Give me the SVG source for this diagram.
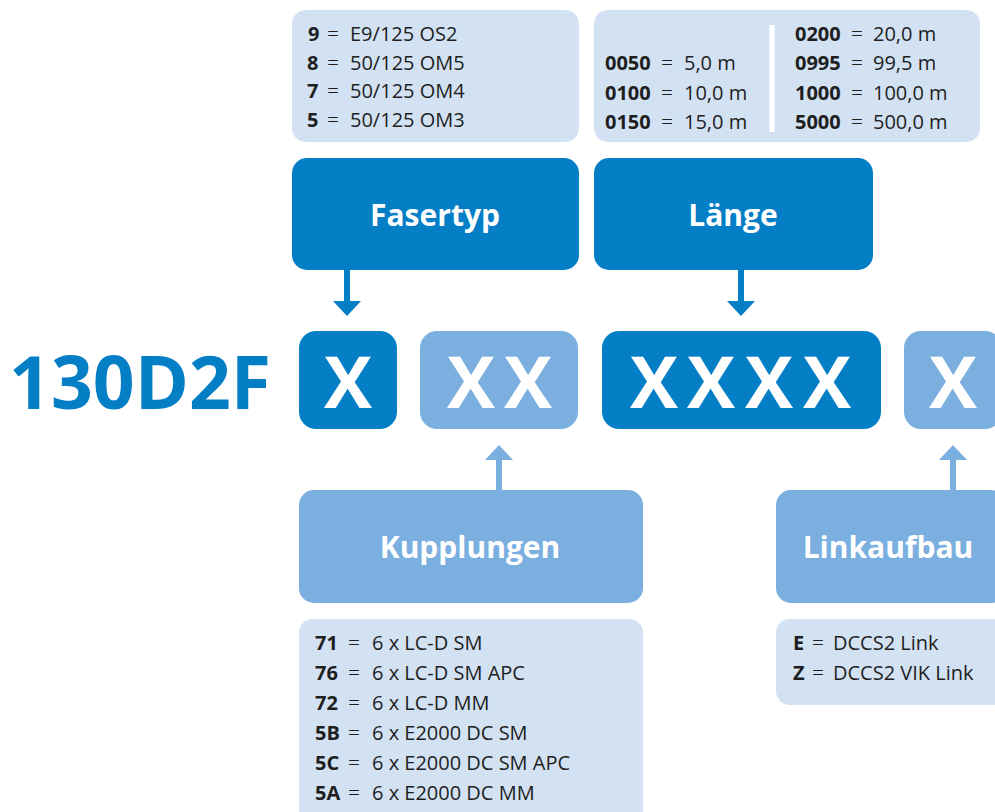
<svg xmlns="http://www.w3.org/2000/svg" width="995" height="812" viewBox="0 0 995 812">
<style>
.dark{fill:#047ec5}
.light{fill:#7aafdf}
.info{fill:#d3e2f3}
.t{font-family:"Open Sans","Liberation Sans",sans-serif;font-size:20px;fill:#1e1e1e}
.b{font-weight:700}
.eq{font-size:21px;font-weight:300}
.hd{font-family:"Open Sans","Liberation Sans",sans-serif;font-size:30px;font-weight:700;fill:#fff;text-anchor:middle}
.x{font-family:"Open Sans","Liberation Sans",sans-serif;font-size:72px;font-weight:700;fill:#fff;text-anchor:middle}
.arrD{fill:#047ec5}
.arrL{fill:#7aafdf}
</style>
<rect width="995" height="812" fill="#fff"/>
<text x="9" y="409" font-family="Open Sans, Liberation Sans, sans-serif" font-size="74" font-weight="700" fill="#047ec5" textLength="262" lengthAdjust="spacingAndGlyphs">130D2F</text>

<g id="info-fasertyp">
<rect class="info" x="292" y="10" width="287" height="132" rx="14"/>
<text class="t" y="41"><tspan x="308" class="b">9</tspan><tspan x="327" class="eq">=</tspan><tspan x="350">E9/125 OS2</tspan></text>
<text class="t" y="70"><tspan x="307" class="b">8</tspan><tspan x="327" class="eq">=</tspan><tspan x="350">50/125 OM5</tspan></text>
<text class="t" y="98"><tspan x="307" class="b">7</tspan><tspan x="327" class="eq">=</tspan><tspan x="350">50/125 OM4</tspan></text>
<text class="t" y="127"><tspan x="307" class="b">5</tspan><tspan x="327" class="eq">=</tspan><tspan x="350">50/125 OM3</tspan></text>
</g>

<g id="info-laenge">
<rect class="info" x="594" y="10" width="386" height="132" rx="14"/>
<rect x="769.5" y="25" width="5" height="107" fill="#fff"/>
<text class="t" y="70"><tspan x="605" class="b">0050</tspan><tspan x="661" class="eq">=</tspan><tspan x="684">5,0 m</tspan></text>
<text class="t" y="100"><tspan x="605" class="b">0100</tspan><tspan x="661" class="eq">=</tspan><tspan x="684">10,0 m</tspan></text>
<text class="t" y="129"><tspan x="605" class="b">0150</tspan><tspan x="661" class="eq">=</tspan><tspan x="684">15,0 m</tspan></text>
<text class="t" y="41"><tspan x="795" class="b">0200</tspan><tspan x="851" class="eq">=</tspan><tspan x="873">20,0 m</tspan></text>
<text class="t" y="70"><tspan x="795" class="b">0995</tspan><tspan x="851" class="eq">=</tspan><tspan x="873">99,5 m</tspan></text>
<text class="t" y="100"><tspan x="795" class="b">1000</tspan><tspan x="851" class="eq">=</tspan><tspan x="873">100,0 m</tspan></text>
<text class="t" y="129"><tspan x="795" class="b">5000</tspan><tspan x="851" class="eq">=</tspan><tspan x="873">500,0 m</tspan></text>
</g>

<g id="fasertyp">
<rect class="dark" x="292" y="158" width="287" height="112" rx="15"/>
<text class="hd" x="435" y="226">Fasertyp</text>
</g>
<g id="laenge">
<rect class="dark" x="594" y="158" width="279" height="112" rx="15"/>
<text class="hd" x="733" y="226">Länge</text>
</g>

<g id="x1">
<rect class="dark" x="299" y="331" width="98" height="98" rx="17"/>
<text class="x" x="348" y="408">X</text>
</g>
<g id="x2">
<rect class="light" x="420" y="331" width="158" height="98" rx="17"/>
<text class="x" x="471" y="408">X</text>
<text class="x" x="528" y="408">X</text>
</g>
<g id="x4">
<rect class="dark" x="602" y="331" width="279" height="98" rx="17"/>
<text class="x" x="654" y="408">X</text>
<text class="x" x="711" y="408">X</text>
<text class="x" x="769" y="408">X</text>
<text class="x" x="827" y="408">X</text>
</g>
<g id="x5">
<rect class="light" x="904" y="331" width="98" height="98" rx="17"/>
<text class="x" x="953" y="408">X</text>
</g>

<g id="kupplungen">
<rect class="light" x="299" y="490" width="344" height="113" rx="15"/>
<text class="hd" x="470" y="558">Kupplungen</text>
</g>
<g id="linkaufbau">
<rect class="light" x="776" y="490" width="230" height="113" rx="15"/>
<text class="hd" x="888" y="558">Linkaufbau</text>
</g>

<g id="info-kupplungen">
<rect class="info" x="299" y="619" width="344" height="210" rx="14"/>
<text class="t" y="650"><tspan x="315" class="b">71</tspan><tspan x="348" class="eq">=</tspan><tspan x="372">6 x LC-D SM</tspan></text>
<text class="t" y="680"><tspan x="315" class="b">76</tspan><tspan x="348" class="eq">=</tspan><tspan x="372">6 x LC-D SM APC</tspan></text>
<text class="t" y="710"><tspan x="315" class="b">72</tspan><tspan x="348" class="eq">=</tspan><tspan x="372">6 x LC-D MM</tspan></text>
<text class="t" y="740"><tspan x="315" class="b">5B</tspan><tspan x="348" class="eq">=</tspan><tspan x="372">6 x E2000 DC SM</tspan></text>
<text class="t" y="770"><tspan x="315" class="b">5C</tspan><tspan x="348" class="eq">=</tspan><tspan x="372">6 x E2000 DC SM APC</tspan></text>
<text class="t" y="800"><tspan x="315" class="b">5A</tspan><tspan x="348" class="eq">=</tspan><tspan x="372">6 x E2000 DC MM</tspan></text>
</g>
<g id="info-linkaufbau">
<rect class="info" x="776" y="619" width="230" height="86" rx="14"/>
<text class="t" y="650"><tspan x="793" class="b">E</tspan><tspan x="812" class="eq">=</tspan><tspan x="833">DCCS2 Link</tspan></text>
<text class="t" y="680"><tspan x="793" class="b">Z</tspan><tspan x="812" class="eq">=</tspan><tspan x="833">DCCS2 VIK Link</tspan></text>
</g>

<g id="connectors">
<path class="arrD" d="M344 270 H350 V301 H361 L347 316 L333 301 H344 Z"/>
<path class="arrD" d="M738 270 H744 V301 H755 L741 316 L727 301 H738 Z"/>
<path class="arrL" d="M496 490 H502 V460 H513 L499 445 L485 460 H496 Z"/>
<path class="arrL" d="M950 490 H956 V460 H967 L953 445 L939 460 H950 Z"/>
</g>
</svg>
